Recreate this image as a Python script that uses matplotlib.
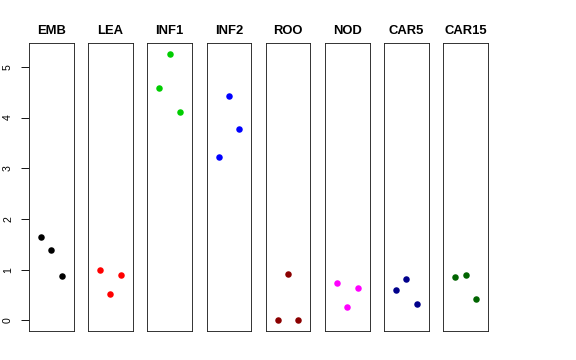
import matplotlib
matplotlib.use("Agg")
import matplotlib.pyplot as plt

tissues = ["EMB", "LEA", "INF1", "INF2", "ROO", "NOD", "CAR5", "CAR15"]
colors = ["black", "red", "#00CD00", "blue", "#8B0000", "magenta", "#00008B", "#006400"]
rep_x = [1, 2, 3]
EMB = [1.65, 1.39, 0.87]
LEA = [1.00, 0.51, 0.90]
INF1 = [4.58, 5.26, 4.10]
INF2 = [3.22, 4.42, 3.78]
ROO = [0.00, 0.92, 0.00]
NOD = [0.73, 0.26, 0.63]
CAR5 = [0.60, 0.82, 0.32]
CAR15 = [0.86, 0.90, 0.42]
series = [EMB, LEA, INF1, INF2, ROO, NOD, CAR5, CAR15]
yticks = [0, 1, 2, 3, 4, 5]

plt.rcParams['font.family'] = ['Liberation Sans', 'DejaVu Sans']
W, H = 576, 360
fig = plt.figure(figsize=(W / 72, H / 72), dpi=72)

ymax = max(max(s) for s in series)
ymin = min(min(s) for s in series)
pad = (ymax - ymin) * 0.04

for i, (name, col, vals) in enumerate(zip(tissues, colors, series)):
    left = 29 + 59.2 * i
    ax = fig.add_axes([left / W, (H - 331) / H, 44.5 / W, (331 - 43) / H])
    ax.plot(rep_x, vals, 'o', color=col, markersize=6.5, markeredgewidth=0)
    ax.set_xlim(-0.16, 4.16)
    ax.set_ylim(ymin - pad, ymax + pad)
    ax.set_xticks([])
    for sp in ax.spines.values():
        sp.set_linewidth(0.9)
        sp.set_color('#222222')
    ax.set_title(name, fontsize=13, fontweight='bold', pad=9)
    if i == 0:
        ax.set_yticks(yticks)
        ax.set_yticklabels([str(t) for t in yticks], rotation=90, va='center', fontsize=10.5)
        ax.tick_params(axis='y', length=8, width=0.9, pad=8)
    else:
        ax.set_yticks([])

fig.savefig("out.png", dpi=72)
